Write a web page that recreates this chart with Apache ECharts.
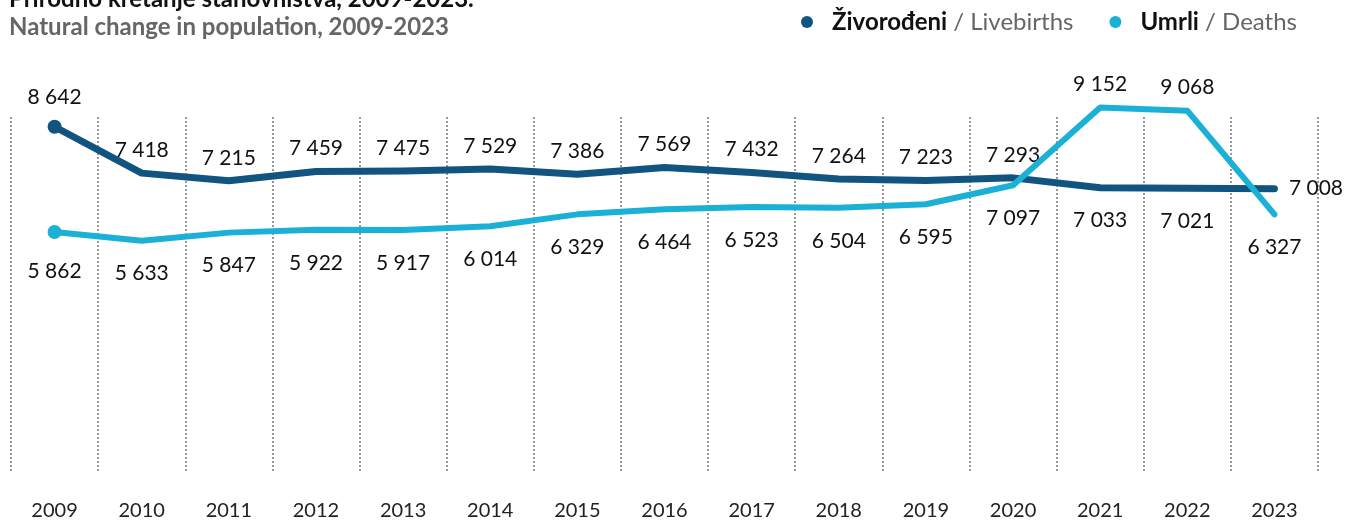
<!DOCTYPE html>
<html>
<head>
<meta charset="utf-8">
<script src="https://cdn.jsdelivr.net/npm/echarts@6/dist/echarts.min.js"></script>
<style>
  html, body { margin: 0; padding: 0; background: #fff; }
  #chart { width: 1348px; height: 521px; }
</style>
</head>
<body>
<div id="chart"></div>
<script>
// podaci
const years = ['2009', '2010', '2011', '2012', '2013', '2014', '2015', '2016', '2017', '2018', '2019', '2020', '2021', '2022', '2023'];
const births = [8642, 7418, 7215, 7459, 7475, 7529, 7386, 7569, 7432, 7264, 7223, 7293, 7033, 7021, 7008];
const deaths = [5862, 5633, 5847, 5922, 5917, 6014, 6329, 6464, 6523, 6504, 6595, 7097, 9152, 9068, 6327];
const seriesNames = ['Živorođeni', 'Umrli'];
const seriesNamesEn = ['Livebirths', 'Deaths'];

const fontFamily = 'Lato, "Open Sans", sans-serif';
const navy = '#115480';
const cyan = '#1bb0d5';

// broj s razmakom kao separatorom tisuća
const fmt = v => String(v).replace(/\B(?=(\d{3})+(?!\d))/g, ' ');

// pozicije oznaka
const birthLabelPos = i => (i === 12 || i === 13) ? 'bottom' : (i === 14 ? 'right' : 'top');
const deathLabelPos = i => (i === 12 || i === 13) ? 'top' : 'bottom';

const makeData = (values, posFn) => values.map((v, i) => {
  const pos = posFn(i);
  return {
    value: v,
    label: {
      position: pos,
      distance: pos === 'right' ? 14 : (pos === 'top' ? 12 : 22)
    }
  };
});

const chart = echarts.init(document.getElementById('chart'));

const option = {
  animation: false,
  textStyle: { fontFamily },
  title: [
    {
      text: 'Prirodno kretanje stanovništva, 2009-2023.',
      left: 4,
      top: -18,
      textStyle: { fontSize: 24, fontWeight: 'bold', color: '#111', fontFamily }
    },
    {
      text: 'Natural change in population, 2009-2023',
      left: 4,
      top: 10,
      textStyle: { fontSize: 24, fontWeight: 'bold', color: '#666', fontFamily }
    }
  ],
  legend: {
    right: 46,
    top: 5,
    icon: 'circle',
    itemWidth: 12,
    itemHeight: 12,
    itemGap: 36,
    data: seriesNames,
    formatter: name => {
      const i = seriesNames.indexOf(name);
      return '{b|' + name + '}{g| / ' + seriesNamesEn[i] + '}';
    },
    textStyle: {
      fontFamily,
      rich: {
        b: { fontSize: 24, fontWeight: 'bold', color: '#111', fontFamily, padding: [0, 0, 0, 14] },
        g: { fontSize: 24, color: '#666', fontFamily }
      }
    }
  },
  grid: { left: 11, right: 30, top: 117, bottom: 48 },
  xAxis: {
    type: 'category',
    data: years,
    boundaryGap: true,
    axisLine: { show: false },
    axisTick: { show: false },
    axisLabel: { margin: 28, fontSize: 20, color: '#222', fontFamily },
    splitLine: {
      show: true,
      lineStyle: { color: '#777', type: [2, 2], width: 1.5 }
    }
  },
  yAxis: {
    type: 'value',
    min: -500,
    max: 8900,
    show: false,
    splitLine: { show: false }
  },
  series: [
    {
      name: seriesNames[0],
      type: 'line',
      data: makeData(births, birthLabelPos),
      clip: false,
      symbol: 'circle',
      symbolSize: (v, p) => p.dataIndex === 0 ? 14 : 1,
      itemStyle: { color: navy },
      lineStyle: { color: navy, width: 7, cap: 'round', join: 'round' },
      label: {
        show: true,
        formatter: p => fmt(p.value),
        fontSize: 21,
        color: '#111',
        fontFamily
      },
      z: 2
    },
    {
      name: seriesNames[1],
      type: 'line',
      data: makeData(deaths, deathLabelPos),
      clip: false,
      symbol: 'circle',
      symbolSize: (v, p) => p.dataIndex === 0 ? 14 : 1,
      itemStyle: { color: cyan },
      lineStyle: { color: cyan, width: 6, cap: 'round', join: 'round' },
      label: {
        show: true,
        formatter: p => fmt(p.value),
        fontSize: 21,
        color: '#111',
        fontFamily
      },
      z: 3
    }
  ]
};

chart.setOption(option);
window.addEventListener('resize', () => chart.resize());
</script>
</body>
</html>
